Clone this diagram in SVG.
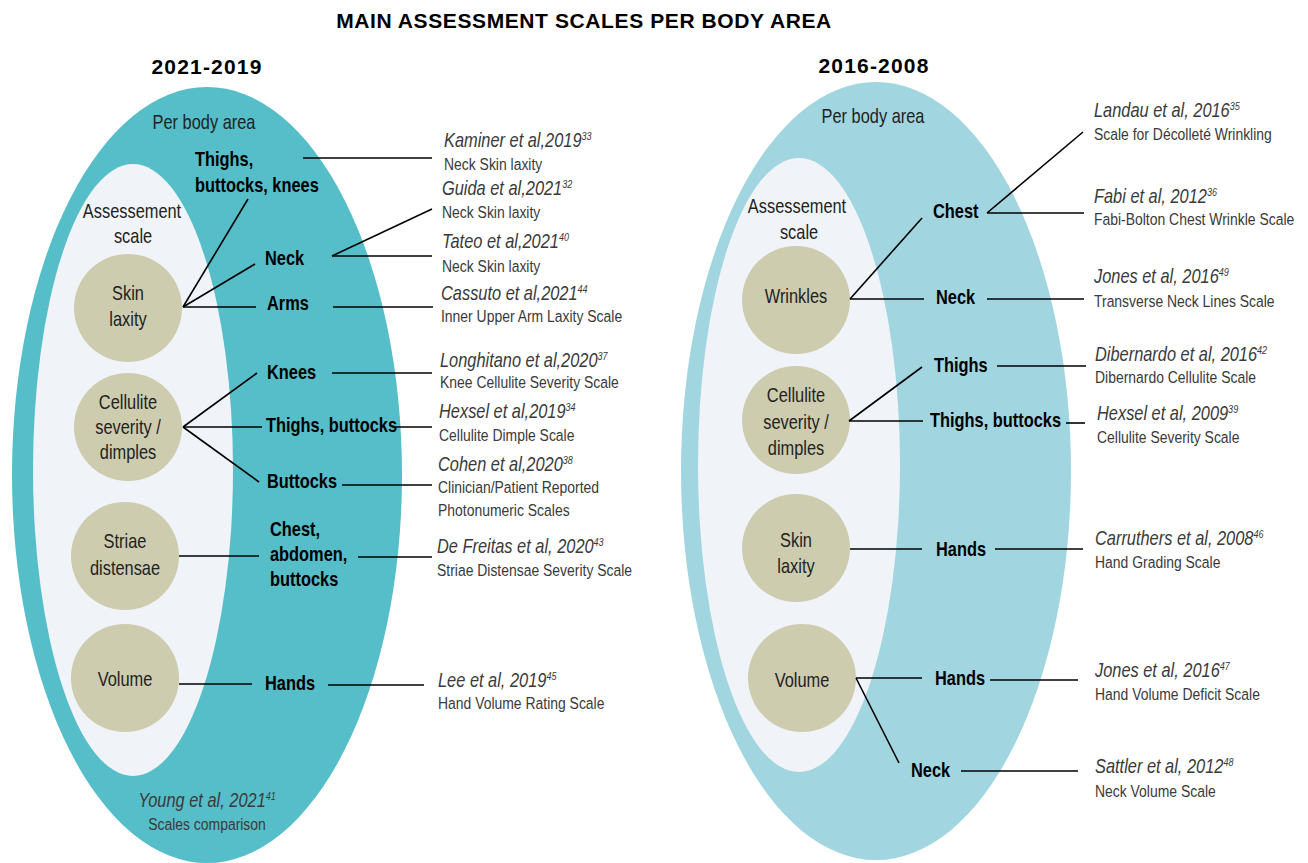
<svg xmlns="http://www.w3.org/2000/svg" width="1308" height="863" viewBox="0 0 1308 863">
<style>
.title{font-family:"Liberation Sans",Arial,sans-serif;font-weight:bold;font-size:21px;letter-spacing:0.6px;fill:#000}
.yr{font-family:"Liberation Sans",Arial,sans-serif;font-weight:bold;font-size:21px;letter-spacing:1.2px;fill:#000}
.r{font-family:"Liberation Sans Narrow","Arial Narrow","Liberation Sans",sans-serif;font-size:20px;fill:#222}
.b{font-family:"Liberation Sans Narrow","Arial Narrow","Liberation Sans",sans-serif;font-weight:bold;font-size:20px;fill:#000}
.ref{font-family:"Liberation Sans Narrow","Arial Narrow","Liberation Sans",sans-serif;font-style:italic;font-size:20px;fill:#3a3a3a}
.sub{font-family:"Liberation Sans Narrow","Arial Narrow","Liberation Sans",sans-serif;font-size:17px;fill:#3a3a3a}
.sup{font-size:11px}
.m{text-anchor:middle}
.circ{fill:#CDCCAE}
.inner{fill:#F0F4F8}
.conn line{stroke:#000;stroke-width:1.6}
</style>

<text class="title m" x="584" y="28">MAIN ASSESSMENT SCALES PER BODY AREA</text>

<!-- LEFT PANEL -->
<g id="left-panel">
  <text class="yr m" x="207" y="74">2021-2019</text>
  <ellipse id="left-outer" cx="207" cy="475" rx="195" ry="388" fill="#55BEC8"/>
  <ellipse id="left-inner" class="inner" cx="133" cy="470" rx="100" ry="306"/>
  <text class="r m" transform="translate(204 129) scale(.82 1)">Per body area</text>
  <text class="r m" transform="translate(132 218) scale(.82 1)">Assessement</text>
  <text class="r m" transform="translate(133 243) scale(.82 1)">scale</text>
  <text class="ref m" transform="translate(207 807) scale(.82 1)">Young et al, 2021<tspan class="sup" dy="-7">41</tspan></text>
  <text class="sub m" transform="translate(207 830) scale(.82 1)">Scales comparison</text>
</g>

<g id="l-skin"><circle class="circ" cx="128" cy="308" r="54"/><text class="r m" transform="translate(128 300) scale(.82 1)">Skin</text><text class="r m" transform="translate(128 326) scale(.82 1)">laxity</text></g>
<g id="l-cell"><circle class="circ" cx="128" cy="427" r="54"/><text class="r m" transform="translate(128 409) scale(.82 1)">Cellulite</text><text class="r m" transform="translate(128 434) scale(.82 1)">severity /</text><text class="r m" transform="translate(128 459) scale(.82 1)">dimples</text></g>
<g id="l-striae"><circle class="circ" cx="125" cy="556" r="54"/><text class="r m" transform="translate(125 548) scale(.82 1)">Striae</text><text class="r m" transform="translate(125 575) scale(.82 1)">distensae</text></g>
<g id="l-volume"><circle class="circ" cx="125" cy="678" r="54"/><text class="r m" transform="translate(125 686) scale(.82 1)">Volume</text></g>

<g id="l-tbk"><text class="b" transform="translate(195 166) scale(.82 1)">Thighs,</text><text class="b" transform="translate(195 192) scale(.82 1)">buttocks, knees</text></g>
<g id="l-neck"><text class="b" transform="translate(265 265) scale(.82 1)">Neck</text></g>
<g id="l-arms"><text class="b" transform="translate(267 310) scale(.82 1)">Arms</text></g>
<g id="l-knees"><text class="b" transform="translate(267 379) scale(.82 1)">Knees</text></g>
<g id="l-tb"><text class="b" transform="translate(266 432) scale(.82 1)">Thighs, buttocks</text></g>
<g id="l-buttocks"><text class="b" transform="translate(267 488) scale(.82 1)">Buttocks</text></g>
<g id="l-cab"><text class="b" transform="translate(270 536) scale(.82 1)">Chest,</text><text class="b" transform="translate(270 561) scale(.82 1)">abdomen,</text><text class="b" transform="translate(270 586) scale(.82 1)">buttocks</text></g>
<g id="l-hands"><text class="b" transform="translate(265 690) scale(.82 1)">Hands</text></g>

<g id="l-refs">
  <g id="ref-kaminer"><text class="ref" transform="translate(444 147) scale(.82 1)">Kaminer et al,2019<tspan class="sup" dy="-7">33</tspan></text><text class="sub" transform="translate(444 170) scale(.82 1)">Neck Skin laxity</text></g>
  <g id="ref-guida"><text class="ref" transform="translate(442 195) scale(.82 1)">Guida et al,2021<tspan class="sup" dy="-7">32</tspan></text><text class="sub" transform="translate(442 218) scale(.82 1)">Neck Skin laxity</text></g>
  <g id="ref-tateo"><text class="ref" transform="translate(442 248) scale(.82 1)">Tateo et al,2021<tspan class="sup" dy="-7">40</tspan></text><text class="sub" transform="translate(442 272) scale(.82 1)">Neck Skin laxity</text></g>
  <g id="ref-cassuto"><text class="ref" transform="translate(441 300) scale(.82 1)">Cassuto et al,2021<tspan class="sup" dy="-7">44</tspan></text><text class="sub" transform="translate(441 322) scale(.82 1)">Inner Upper Arm Laxity Scale</text></g>
  <g id="ref-longhitano"><text class="ref" transform="translate(440 367) scale(.82 1)">Longhitano et al,2020<tspan class="sup" dy="-7">37</tspan></text><text class="sub" transform="translate(440 388) scale(.82 1)">Knee Cellulite Severity Scale</text></g>
  <g id="ref-hexsel2019"><text class="ref" transform="translate(439 418) scale(.82 1)">Hexsel et al,2019<tspan class="sup" dy="-7">34</tspan></text><text class="sub" transform="translate(439 441) scale(.82 1)">Cellulite Dimple Scale</text></g>
  <g id="ref-cohen"><text class="ref" transform="translate(438 471) scale(.82 1)">Cohen et al,2020<tspan class="sup" dy="-7">38</tspan></text><text class="sub" transform="translate(438 493) scale(.82 1)">Clinician/Patient Reported</text><text class="sub" transform="translate(438 516) scale(.82 1)">Photonumeric Scales</text></g>
  <g id="ref-defreitas"><text class="ref" transform="translate(437 553) scale(.82 1)">De Freitas et al, 2020<tspan class="sup" dy="-7">43</tspan></text><text class="sub" transform="translate(437 576) scale(.82 1)">Striae Distensae Severity Scale</text></g>
  <g id="ref-lee"><text class="ref" transform="translate(438 687) scale(.82 1)">Lee et al, 2019<tspan class="sup" dy="-7">45</tspan></text><text class="sub" transform="translate(438 709) scale(.82 1)">Hand Volume Rating Scale</text></g>
</g>

<!-- RIGHT PANEL -->
<g id="right-panel">
  <text class="yr m" x="874" y="73">2016-2008</text>
  <ellipse id="right-outer" cx="876" cy="471" rx="195" ry="389" fill="#A1D6E1"/>
  <ellipse id="right-inner" class="inner" cx="799" cy="465" rx="101" ry="307"/>
  <text class="r m" transform="translate(873 123) scale(.82 1)">Per body area</text>
  <text class="r m" transform="translate(797 213) scale(.82 1)">Assessement</text>
  <text class="r m" transform="translate(799 239) scale(.82 1)">scale</text>
</g>

<g id="r-wrinkles"><circle class="circ" cx="796" cy="300" r="54"/><text class="r m" transform="translate(796 303) scale(.82 1)">Wrinkles</text></g>
<g id="r-cell"><circle class="circ" cx="796" cy="420" r="54"/><text class="r m" transform="translate(796 402) scale(.82 1)">Cellulite</text><text class="r m" transform="translate(796 429) scale(.82 1)">severity /</text><text class="r m" transform="translate(796 455) scale(.82 1)">dimples</text></g>
<g id="r-skin"><circle class="circ" cx="796" cy="548" r="54"/><text class="r m" transform="translate(796 547) scale(.82 1)">Skin</text><text class="r m" transform="translate(796 573) scale(.82 1)">laxity</text></g>
<g id="r-volume"><circle class="circ" cx="802" cy="678" r="54"/><text class="r m" transform="translate(802 687) scale(.82 1)">Volume</text></g>

<g id="r-chest"><text class="b" transform="translate(933 218) scale(.82 1)">Chest</text></g>
<g id="r-neck1"><text class="b" transform="translate(936 304) scale(.82 1)">Neck</text></g>
<g id="r-thighs"><text class="b" transform="translate(934 372) scale(.82 1)">Thighs</text></g>
<g id="r-tb"><text class="b" transform="translate(930 427) scale(.82 1)">Thighs, buttocks</text></g>
<g id="r-hands1"><text class="b" transform="translate(936 556) scale(.82 1)">Hands</text></g>
<g id="r-hands2"><text class="b" transform="translate(935 685) scale(.82 1)">Hands</text></g>
<g id="r-neck2"><text class="b" transform="translate(911 777) scale(.82 1)">Neck</text></g>

<g id="r-refs">
  <g id="ref-landau"><text class="ref" transform="translate(1094 117) scale(.82 1)">Landau et al, 2016<tspan class="sup" dy="-7">35</tspan></text><text class="sub" transform="translate(1094 140) scale(.82 1)">Scale for Décolleté Wrinkling</text></g>
  <g id="ref-fabi"><text class="ref" transform="translate(1094 203) scale(.82 1)">Fabi et al, 2012<tspan class="sup" dy="-7">36</tspan></text><text class="sub" transform="translate(1094 225) scale(.82 1)">Fabi-Bolton Chest Wrinkle Scale</text></g>
  <g id="ref-jones49"><text class="ref" transform="translate(1094 283) scale(.82 1)">Jones et al, 2016<tspan class="sup" dy="-7">49</tspan></text><text class="sub" transform="translate(1094 307) scale(.82 1)">Transverse Neck Lines Scale</text></g>
  <g id="ref-dibernardo"><text class="ref" transform="translate(1095 361) scale(.82 1)">Dibernardo et al, 2016<tspan class="sup" dy="-7">42</tspan></text><text class="sub" transform="translate(1095 383) scale(.82 1)">Dibernardo Cellulite Scale</text></g>
  <g id="ref-hexsel2009"><text class="ref" transform="translate(1097 420) scale(.82 1)">Hexsel et al, 2009<tspan class="sup" dy="-7">39</tspan></text><text class="sub" transform="translate(1097 443) scale(.82 1)">Cellulite Severity Scale</text></g>
  <g id="ref-carruthers"><text class="ref" transform="translate(1095 545) scale(.82 1)">Carruthers et al, 2008<tspan class="sup" dy="-7">46</tspan></text><text class="sub" transform="translate(1095 568) scale(.82 1)">Hand Grading Scale</text></g>
  <g id="ref-jones47"><text class="ref" transform="translate(1095 677) scale(.82 1)">Jones et al, 2016<tspan class="sup" dy="-7">47</tspan></text><text class="sub" transform="translate(1095 700) scale(.82 1)">Hand Volume Deficit Scale</text></g>
  <g id="ref-sattler"><text class="ref" transform="translate(1095 773) scale(.82 1)">Sattler et al, 2012<tspan class="sup" dy="-7">48</tspan></text><text class="sub" transform="translate(1095 797) scale(.82 1)">Neck Volume Scale</text></g>
</g>

<g id="connectors" class="conn">
  <!-- left -->
  <line x1="183" y1="307" x2="248" y2="199"/>
  <line x1="183" y1="307" x2="255" y2="264"/>
  <line x1="183" y1="307" x2="256" y2="307"/>
  <line x1="303" y1="158" x2="432" y2="158"/>
  <line x1="332" y1="256" x2="432" y2="209"/>
  <line x1="332" y1="256" x2="432" y2="256"/>
  <line x1="333" y1="307" x2="433" y2="307"/>
  <line x1="183" y1="427" x2="257" y2="373"/>
  <line x1="183" y1="427" x2="262" y2="427"/>
  <line x1="183" y1="427" x2="259" y2="482"/>
  <line x1="332" y1="373" x2="432" y2="373"/>
  <line x1="393" y1="427" x2="432" y2="427"/>
  <line x1="342" y1="485" x2="432" y2="485"/>
  <line x1="179" y1="556" x2="259" y2="556"/>
  <line x1="358" y1="557" x2="432" y2="557"/>
  <line x1="179" y1="684" x2="252" y2="684"/>
  <line x1="328" y1="685" x2="424" y2="685"/>
  <!-- right -->
  <line x1="987" y1="213" x2="1083" y2="132"/>
  <line x1="987" y1="213" x2="1084" y2="213"/>
  <line x1="850" y1="299" x2="922" y2="218"/>
  <line x1="850" y1="299" x2="924" y2="299"/>
  <line x1="987" y1="299" x2="1084" y2="299"/>
  <line x1="849" y1="421" x2="922" y2="367"/>
  <line x1="849" y1="421" x2="923" y2="421"/>
  <line x1="997" y1="366" x2="1086" y2="366"/>
  <line x1="1066" y1="423" x2="1085" y2="423"/>
  <line x1="850" y1="549" x2="922" y2="549"/>
  <line x1="995" y1="549" x2="1083" y2="549"/>
  <line x1="856" y1="678" x2="922" y2="678"/>
  <line x1="856" y1="678" x2="899" y2="763"/>
  <line x1="990" y1="680" x2="1078" y2="680"/>
  <line x1="961" y1="771" x2="1078" y2="771"/>
</g>
</svg>
